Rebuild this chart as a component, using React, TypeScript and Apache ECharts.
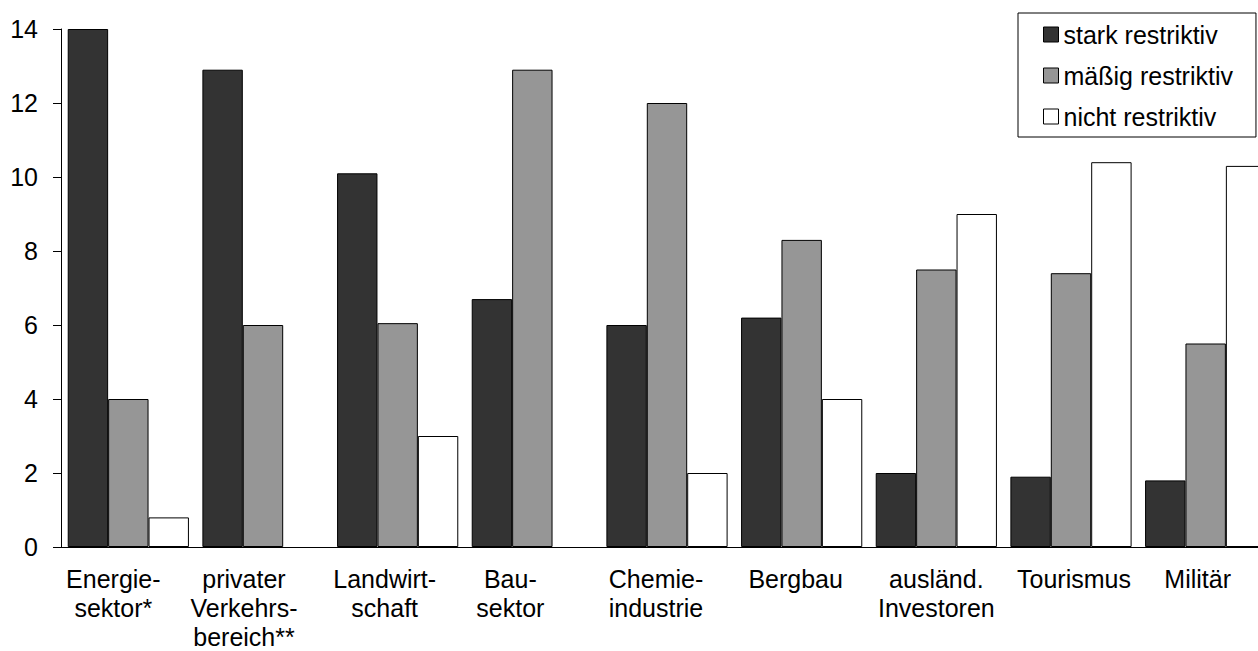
import React, { useEffect, useRef } from "react";
import * as echarts from "echarts";

const categories = [
  "Energie-\nsektor*",
  "privater\nVerkehrs-\nbereich**",
  "Landwirt-\nschaft",
  "Bau-\nsektor",
  "Chemie-\nindustrie",
  "Bergbau",
  "ausländ.\nInvestoren",
  "Tourismus",
  "Militär",
];
const starkRestriktiv = [14, 12.9, 10.1, 6.7, 6.0, 6.2, 2.0, 1.9, 1.8];
const maessigRestriktiv = [4.0, 6.0, 6.05, 12.9, 12.0, 8.3, 7.5, 7.4, 5.5];
const nichtRestriktiv = [0.8, null, 3.0, null, 2.0, 4.0, 9.0, 10.4, 10.3];
const yTicks = { min: 0, max: 14, interval: 2 };

// horizontal shift (px, to the left) of each category label, as in the reference layout
const labelShiftLeft = [15, 19, 13, 22, 11, 6, 0, -3, 8];

const FONT = "'Liberation Sans', Arial, sans-serif";

export default function App() {
  const ref = useRef<HTMLDivElement>(null);
  useEffect(() => {
    if (!ref.current) return;
    const chart = echarts.init(ref.current, null, { renderer: "svg" });
    const border = { borderColor: "#000", borderWidth: 1 };
    const catData = categories.map((c, i) => {
      const s = labelShiftLeft[i];
      return {
        value: c,
        textStyle: { padding: s >= 0 ? [0, 2 * s, 0, 0] : [0, 0, 0, -2 * s] },
      };
    });
    chart.setOption({
      animation: false,
      backgroundColor: "#fff",
      textStyle: { fontFamily: FONT, color: "#000" },
      grid: { left: 61, top: 29, width: 1212, height: 518, outerBoundsMode: "none", containLabel: false },
      legend: {
        orient: "vertical",
        left: 1018,
        top: 13,
        icon: "rect",
        itemWidth: 15,
        itemHeight: 15,
        itemGap: 16,
        padding: [9, 23, 8, 25],
        borderColor: "#000",
        borderWidth: 1,
        itemStyle: { borderColor: "#000", borderWidth: 1 },
        textStyle: { fontFamily: FONT, fontSize: 25, color: "#000", lineHeight: 25 },
        data: ["stark restriktiv", "mäßig restriktiv", "nicht restriktiv"],
      },
      xAxis: {
        type: "category",
        data: catData,
        axisLine: { lineStyle: { color: "#000", width: 1 } },
        axisTick: { show: false },
        axisLabel: {
          interval: 0,
          margin: 17,
          fontFamily: FONT,
          fontSize: 25,
          lineHeight: 29,
          color: "#000",
        },
      },
      yAxis: {
        type: "value",
        min: yTicks.min,
        max: yTicks.max,
        interval: yTicks.interval,
        splitLine: { show: false },
        axisLine: { show: true, lineStyle: { color: "#000", width: 1 } },
        axisTick: { show: true, length: 8, lineStyle: { color: "#000" } },
        axisLabel: { margin: 23, fontFamily: FONT, fontSize: 25, color: "#000" },
      },
      series: [
        {
          name: "stark restriktiv",
          type: "bar",
          data: starkRestriktiv,
          barGap: "0%",
          barCategoryGap: "10%",
          itemStyle: { color: "#333333", ...border },
        },
        {
          name: "mäßig restriktiv",
          type: "bar",
          data: maessigRestriktiv,
          barGap: "0%",
          barCategoryGap: "10%",
          itemStyle: { color: "#969696", ...border },
        },
        {
          name: "nicht restriktiv",
          type: "bar",
          data: nichtRestriktiv,
          barGap: "0%",
          barCategoryGap: "10%",
          itemStyle: { color: "#ffffff", ...border },
        },
      ],
    });
    return () => chart.dispose();
  }, []);
  return (
    <div
      ref={ref}
      style={{ position: "fixed", left: 0, top: 0, width: 1258, height: 651, overflow: "hidden" }}
    />
  );
}
